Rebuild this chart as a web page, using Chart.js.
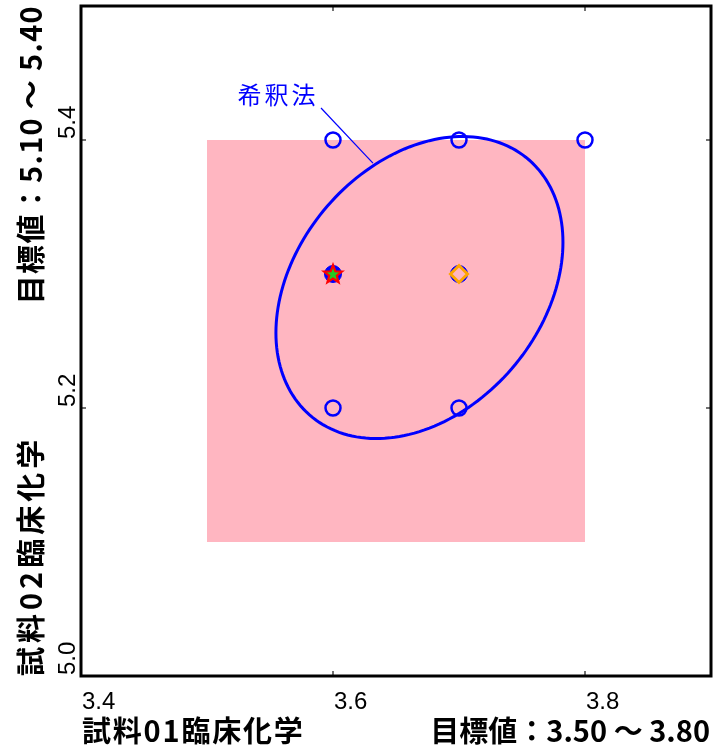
<!DOCTYPE html>
<html>
<head>
<meta charset="utf-8">
<script src="https://cdn.jsdelivr.net/npm/chart.js@4.4.0/dist/chart.umd.min.js"></script>
<style>
  body { margin: 0; background: #fff; }
  canvas { display: block; }
</style>
</head>
<body>
<canvas id="chart" width="714" height="751"></canvas>
<script>
// axes
const xTicks = [3.4, 3.6, 3.8];
const yTicks = [5.0, 5.2, 5.4];
const xTickLabels = ['3.4', '3.6', '3.8'];
const yTickLabels = ['5.0', '5.2', '5.4'];
const xRange = [3.4, 3.9];
const yRange = [5.0, 5.5];

const xTitleLeft = '試料01臨床化学';
const xTitleRight = '目標値：3.50 ～ 3.80';
const yTitleLeft = '試料02臨床化学';
const yTitleRight = '目標値：5.10 ～ 5.40';

// target zone
const targetX = [3.50, 3.80];
const targetY = [5.10, 5.40];

// measured points
const openX = [3.6, 3.7, 3.8, 3.6, 3.7];
const openY = [5.4, 5.4, 5.4, 5.2, 5.2];
const filledX = [3.6, 3.7];
const filledY = [5.3, 5.3];
const starX = [3.6];
const starY = [5.3];
const diamondX = [3.7];
const diamondY = [5.3];

// ellipse (center, half extents, correlation)
const ellipseCenter = [3.6686, 5.2899];
const ellipseHalf = [0.1139, 0.1127];
const ellipseCorr = 0.30;

// annotation
const noteText = '希釈法';
const noteAt = [3.5563, 5.4336];
const leaderFrom = [3.5905, 5.4239];
const leaderTo = [3.6317, 5.3828];

const BLUE = '#0000ff';
const PINK = '#ffb6c1';
const TITLE_FONT = 'bold 29px "Noto Sans CJK JP"';

function toPoints(xs, ys) {
    return xs.map((x, i) => ({ x: x, y: ys[i] }));
}

// five point star marker
function makeStar() {
    const c = document.createElement('canvas');
    c.width = 24; c.height = 24;
    const g = c.getContext('2d');
    g.beginPath();
    for (let i = 0; i < 10; i++) {
        const r = i % 2 === 0 ? 9.5 : 4;
        const a = -Math.PI / 2 + i * Math.PI / 5;
        const px = 12 + r * Math.cos(a), py = 12.5 + r * Math.sin(a);
        if (i === 0) g.moveTo(px, py); else g.lineTo(px, py);
    }
    g.closePath();
    g.fillStyle = '#22cc22';
    g.fill();
    g.lineWidth = 2.2;
    g.strokeStyle = '#ff0000';
    g.lineJoin = 'miter';
    g.stroke();
    return c;
}

const backdrop = {
    id: 'backdrop',
    beforeDatasetsDraw(chart) {
        const { ctx, scales: { x, y } } = chart;
        ctx.save();
        // target zone
        const x0 = x.getPixelForValue(targetX[0]), x1 = x.getPixelForValue(targetX[1]);
        const y0 = y.getPixelForValue(targetY[1]), y1 = y.getPixelForValue(targetY[0]);
        ctx.fillStyle = PINK;
        ctx.fillRect(x0, y0, x1 - x0, y1 - y0);

        // ellipse
        const delta = Math.acos(ellipseCorr);
        ctx.beginPath();
        for (let k = 0; k <= 180; k++) {
            const t = k / 180 * Math.PI * 2;
            const px = x.getPixelForValue(ellipseCenter[0] + ellipseHalf[0] * Math.cos(t));
            const py = y.getPixelForValue(ellipseCenter[1] + ellipseHalf[1] * Math.cos(t - delta));
            if (k === 0) ctx.moveTo(px, py); else ctx.lineTo(px, py);
        }
        ctx.closePath();
        ctx.strokeStyle = BLUE;
        ctx.lineWidth = 3;
        ctx.stroke();

        // leader + label
        ctx.beginPath();
        ctx.moveTo(x.getPixelForValue(leaderFrom[0]), y.getPixelForValue(leaderFrom[1]));
        ctx.lineTo(x.getPixelForValue(leaderTo[0]), y.getPixelForValue(leaderTo[1]));
        ctx.lineWidth = 1.2;
        ctx.stroke();
        ctx.fillStyle = BLUE;
        ctx.font = '24px "Noto Sans CJK JP"';
        ctx.letterSpacing = '3px';
        ctx.textAlign = 'center';
        ctx.textBaseline = 'middle';
        ctx.fillText(noteText, x.getPixelForValue(noteAt[0]), y.getPixelForValue(noteAt[1]));
        ctx.restore();
    }
};

const frame = {
    id: 'frame',
    afterDraw(chart) {
        const { ctx, chartArea: a, scales: { x, y } } = chart;
        ctx.save();
        // inward ticks
        ctx.strokeStyle = '#444';
        ctx.lineWidth = 1.5;
        x.ticks.forEach(t => {
            const px = x.getPixelForValue(t.value);
            ctx.beginPath();
            ctx.moveTo(px, a.bottom); ctx.lineTo(px, a.bottom - 5);
            ctx.moveTo(px, a.top); ctx.lineTo(px, a.top + 5);
            ctx.stroke();
        });
        y.ticks.forEach(t => {
            const py = y.getPixelForValue(t.value);
            ctx.beginPath();
            ctx.moveTo(a.left, py); ctx.lineTo(a.left + 5, py);
            ctx.moveTo(a.right, py); ctx.lineTo(a.right - 5, py);
            ctx.stroke();
        });
        ctx.strokeStyle = '#000';
        ctx.lineWidth = 3;
        ctx.strokeRect(a.left, a.top, a.right - a.left, a.bottom - a.top);

        // tick labels
        ctx.fillStyle = '#000';
        ctx.font = '24px "Liberation Sans"';
        ctx.textBaseline = 'alphabetic';
        ctx.textAlign = 'left';
        x.ticks.forEach((t, i) => {
            ctx.fillText(xTickLabels[i], x.getPixelForValue(t.value) + 1, 709);
        });
        y.ticks.forEach((t, i) => {
            ctx.save();
            ctx.translate(75, y.getPixelForValue(t.value) - 1);
            ctx.rotate(-Math.PI / 2);
            ctx.fillText(yTickLabels[i], 0, 0);
            ctx.restore();
        });

        // axis titles
        ctx.font = TITLE_FONT;
        ctx.textBaseline = 'middle';
        ctx.letterSpacing = '1.8px';
        ctx.textAlign = 'left';
        ctx.fillText(xTitleLeft, a.left + 1, 731);
        ctx.letterSpacing = '0px';
        ctx.textAlign = 'right';
        ctx.fillText(xTitleRight, a.right - 1, 731);

        ctx.translate(31, 0);
        ctx.rotate(-Math.PI / 2);
        ctx.letterSpacing = '4px';
        ctx.textAlign = 'left';
        ctx.fillText(yTitleLeft, -a.bottom, 0);
        ctx.letterSpacing = '1.3px';
        ctx.textAlign = 'right';
        ctx.fillText(yTitleRight, -a.top + 1, 0);
        ctx.restore();
    }
};

new Chart(document.getElementById('chart'), {
    type: 'scatter',
    data: {
        datasets: [
            {
                data: toPoints(openX, openY),
                order: 2,
                pointStyle: 'circle',
                pointRadius: 7.5,
                pointBorderWidth: 2.5,
                pointBorderColor: BLUE,
                pointBackgroundColor: 'rgba(0,0,0,0)'
            },
            {
                data: toPoints(filledX, filledY),
                order: 3,
                pointStyle: 'circle',
                pointRadius: 8.5,
                pointBorderWidth: 1,
                pointBorderColor: BLUE,
                pointBackgroundColor: BLUE
            },
            {
                data: toPoints(starX, starY),
                order: 1,
                pointStyle: makeStar()
            },
            {
                data: toPoints(diamondX, diamondY),
                order: 1,
                pointStyle: 'rectRot',
                pointRadius: 8.5,
                pointBorderWidth: 3,
                pointBorderColor: '#ffa500',
                pointBackgroundColor: PINK
            }
        ]
    },
    options: {
        responsive: false,
        animation: false,
        devicePixelRatio: 1,
        layout: { autoPadding: false, padding: { left: 81, top: 6, right: 3, bottom: 75 } },
        plugins: { legend: { display: false }, tooltip: { enabled: false } },
        scales: {
            x: {
                type: 'linear',
                display: false,
                min: xRange[0], max: xRange[1],
                afterBuildTicks: s => { s.ticks = xTicks.map(v => ({ value: v })); }
            },
            y: {
                type: 'linear',
                display: false,
                min: yRange[0], max: yRange[1],
                afterBuildTicks: s => { s.ticks = yTicks.map(v => ({ value: v })); }
            }
        }
    },
    plugins: [backdrop, frame]
});
</script>
</body>
</html>
